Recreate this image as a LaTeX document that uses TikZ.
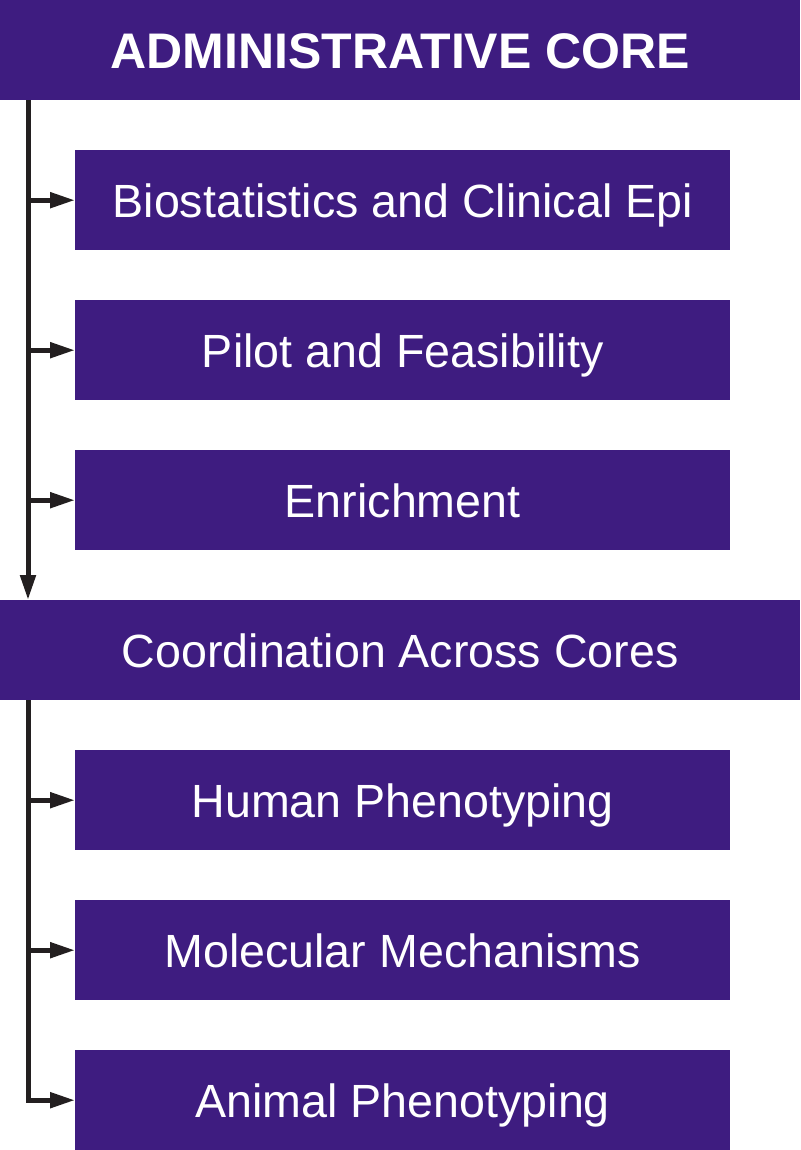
\documentclass[tikz,border=0pt]{standalone}
\usepackage{fontspec}
\setmainfont{Liberation Sans}
\usetikzlibrary{arrows.meta}
\definecolor{corepurple}{HTML}{3E1C80}
\definecolor{linedark}{HTML}{231F20}
\begin{document}
\begin{tikzpicture}[x=1pt,y=-1pt,
  bar/.style={fill=corepurple,draw=none,minimum width=800pt,minimum height=100pt,inner sep=0pt,text=white,anchor=north west,text height=34pt,text depth=0pt},
  sub/.style={fill=corepurple,draw=none,minimum width=655pt,minimum height=100pt,inner sep=0pt,text=white,anchor=north west,font=\fontsize{46.6}{52}\selectfont,text height=34pt,text depth=0pt},
  conn/.style={draw=linedark,line width=5pt,-{Triangle[length=25pt,width=15pt]}},
  trunk/.style={draw=linedark,line width=5pt}]
\useasboundingbox (0,0) rectangle (800,1150);
\node[bar,font=\fontsize{50}{56}\bfseries\selectfont,text height=36pt] (admin) at (0,0) {ADMINISTRATIVE CORE};
\node[sub] (bio) at (75,150) {Biostatistics and Clinical Epi};
\node[sub] (pilot) at (75,300) {Pilot and Feasibility};
\node[sub] (enrich) at (75,450) {Enrichment};
\node[bar,font=\fontsize{46.6}{52}\selectfont] (coord) at (0,600) {Coordination Across Cores};
\node[sub] (human) at (75,750) {Human Phenotyping};
\node[sub] (mol) at (75,900) {Molecular Mechanisms};
\node[sub] (animal) at (75,1050) {Animal Phenotyping};
\coordinate (t1) at (28,100);
\coordinate (t2) at (28,700);
\draw[conn] (t1) -- (t1 |- coord.north);
\draw[conn] (t1 |- bio.west) -- (bio.west);
\draw[conn] (t1 |- pilot.west) -- (pilot.west);
\draw[conn] (t1 |- enrich.west) -- (enrich.west);
\draw[trunk] (t2) -- (t2 |- mol.west);
\draw[conn] (t2 |- human.west) -- (human.west);
\draw[conn] (t2 |- mol.west) -- (mol.west);
\draw[conn,line join=miter] (t2 |- mol.west) -- (t2 |- animal.west) -- (animal.west);
\end{tikzpicture}
\end{document}
